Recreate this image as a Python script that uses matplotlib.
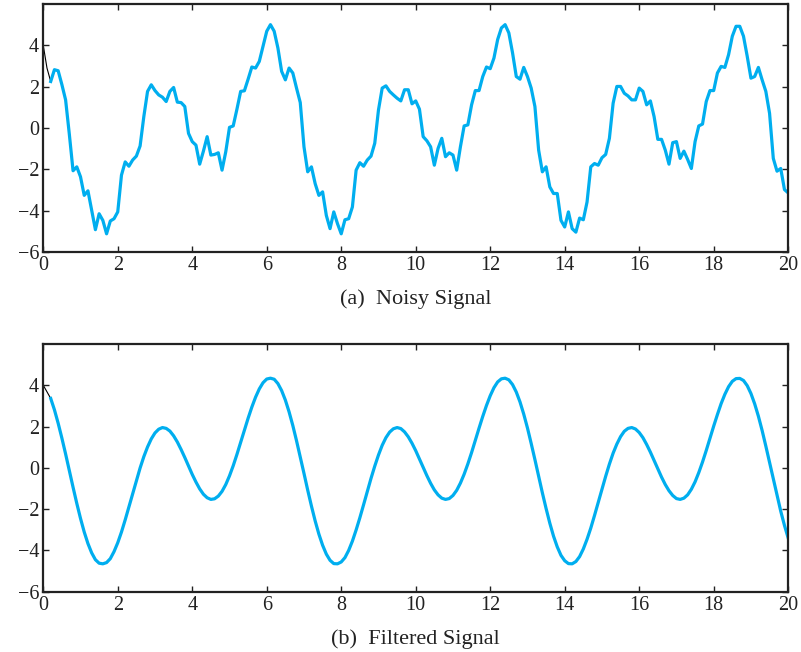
import numpy as np
import matplotlib
matplotlib.use('Agg')
import matplotlib.pyplot as plt

# time axis, 0.1 s steps for both traces
t = np.round(np.arange(0, 201) * 0.1, 1)

noisy = [
    4.00, 2.90, 2.25, 2.82, 2.77, 2.10, 1.36, -0.30, -2.07, -1.88,
    -2.36, -3.26, -3.04, -3.98, -4.92, -4.15, -4.47, -5.12, -4.50, -4.39,
    -4.06, -2.28, -1.64, -1.85, -1.55, -1.36, -0.87, 0.55, 1.77, 2.09,
    1.81, 1.60, 1.49, 1.28, 1.77, 1.96, 1.25, 1.23, 1.04, -0.26,
    -0.66, -0.83, -1.75, -1.12, -0.42, -1.31, -1.28, -1.20, -2.04, -1.15,
    0.03, 0.10, 0.91, 1.77, 1.80, 2.36, 2.95, 2.90, 3.22, 3.95,
    4.68, 5.00, 4.68, 3.87, 2.74, 2.33, 2.90, 2.66, 1.93, 1.23,
    -0.91, -2.12, -1.88, -2.69, -3.26, -3.09, -4.23, -4.87, -4.06, -4.63,
    -5.12, -4.44, -4.39, -3.82, -2.04, -1.68, -1.85, -1.55, -1.36, -0.74,
    0.87, 1.93, 2.04, 1.77, 1.60, 1.44, 1.31, 1.85, 1.85, 1.17,
    1.31, 0.91, -0.42, -0.62, -0.91, -1.80, -0.99, -0.50, -1.39, -1.20,
    -1.31, -2.04, -0.91, 0.10, 0.15, 1.12, 1.81, 1.81, 2.49, 2.95,
    2.87, 3.38, 4.28, 4.84, 5.00, 4.60, 3.63, 2.49, 2.36, 2.93,
    2.49, 1.93, 1.04, -1.07, -2.12, -1.88, -2.85, -3.17, -3.17, -4.47,
    -4.79, -4.06, -4.87, -5.04, -4.36, -4.44, -3.58, -1.88, -1.72, -1.80,
    -1.44, -1.28, -0.50, 1.20, 2.01, 2.01, 1.68, 1.55, 1.36, 1.36,
    1.93, 1.77, 1.12, 1.31, 0.55, -0.55, -0.55, -1.07, -1.75, -0.71,
    -0.66, -1.47, -1.12, -1.52, -1.96, -0.66, 0.10, 0.19, 1.28, 1.81,
    1.81, 2.66, 2.98, 2.93, 3.55, 4.44, 4.92, 4.92, 4.44, 3.47,
    2.41, 2.49, 2.93, 2.33, 1.77, 0.71, -1.47, -2.09, -1.96, -2.98,
    -3.14,
]

filtered = [
    4.00, 3.68, 3.36, 2.81, 2.16, 1.44, 0.67, -0.14, -0.94, -1.72,
    -2.45, -3.11, -3.67, -4.12, -4.45, -4.62, -4.65, -4.59, -4.40, -4.06,
    -3.63, -3.11, -2.52, -1.89, -1.25, -0.62, -0.01, 0.54, 1.01, 1.40,
    1.69, 1.87, 1.95, 1.91, 1.78, 1.55, 1.25, 0.89, 0.50, 0.09,
    -0.32, -0.69, -1.02, -1.28, -1.45, -1.53, -1.50, -1.37, -1.14, -0.81,
    -0.39, 0.10, 0.65, 1.23, 1.82, 2.40, 2.94, 3.42, 3.82, 4.12,
    4.30, 4.34, 4.29, 4.08, 3.74, 3.28, 2.71, 2.05, 1.31, 0.53,
    -0.27, -1.08, -1.85, -2.57, -3.21, -3.75, -4.18, -4.48, -4.64, -4.65,
    -4.56, -4.35, -4.00, -3.55, -3.01, -2.42, -1.79, -1.14, -0.51, 0.08,
    0.62, 1.09, 1.46, 1.73, 1.89, 1.95, 1.90, 1.74, 1.50, 1.19,
    0.83, 0.43, 0.02, -0.38, -0.75, -1.07, -1.31, -1.47, -1.53, -1.49,
    -1.34, -1.09, -0.74, -0.31, 0.19, 0.74, 1.33, 1.92, 2.49, 3.02,
    3.49, 3.88, 4.16, 4.31, 4.34, 4.26, 4.03, 3.67, 3.19, 2.60,
    1.93, 1.18, 0.40, -0.41, -1.21, -1.97, -2.68, -3.31, -3.83, -4.24,
    -4.50, -4.64, -4.65, -4.54, -4.30, -3.93, -3.46, -2.92, -2.31, -1.68,
    -1.04, -0.41, 0.18, 0.71, 1.15, 1.51, 1.77, 1.91, 1.95, 1.88,
    1.71, 1.46, 1.13, 0.76, 0.36, -0.05, -0.45, -0.81, -1.11, -1.34,
    -1.49, -1.53, -1.47, -1.31, -1.04, -0.68, -0.23, 0.28, 0.84, 1.43,
    2.02, 2.58, 3.11, 3.56, 3.93, 4.19, 4.32, 4.33, 4.23, 3.98,
    3.60, 3.10, 2.50, 1.81, 1.05, 0.26, -0.55, -1.34, -2.10, -2.79,
    -3.40,
]

captions = ['(a)  Noisy Signal', '(b)  Filtered Signal']
xticks = [0, 2, 4, 6, 8, 10, 12, 14, 16, 18, 20]
yticks = [-6, -4, -2, 0, 2, 4]
ylabels = ['\u22126', '\u22124', '\u22122', '0', '2', '4']

plt.rcParams['font.family'] = ['Liberation Serif', 'DejaVu Serif']
cyan = '#00AEEF'

fig = plt.figure(figsize=(8.01, 6.52), dpi=100)
ax1 = fig.add_axes([0.054, 0.6135, 0.930, 0.3804])
ax2 = fig.add_axes([0.054, 0.0925, 0.930, 0.3800])

# first samples drawn as a thin black start-up segment
ax1.plot(t[:3], noisy[:3], color='black', lw=0.8)
ax1.plot(t[2:], noisy[2:], color=cyan, lw=2.3)
ax2.plot(t[:3], filtered[:3], color='black', lw=0.8)
ax2.plot(t[2:], filtered[2:], color=cyan, lw=2.3)

for ax, cap in zip([ax1, ax2], captions):
    ax.set_xlim(0, 20)
    ax.set_ylim(-6, 6)
    ax.set_xticks(xticks)
    ax.set_yticks(yticks)
    ax.set_yticklabels(ylabels)
    ax.tick_params(direction='in', length=4, width=1, top=True, right=True,
                   labelsize=14.5, colors='#222222', pad=3)
    for s in ax.spines.values():
        s.set_linewidth(1.6)
        s.set_color('#222222')
    pos = ax.get_position()
    fig.text((pos.x0 + pos.x1) / 2, pos.y0 - 0.072, cap, ha='center',
             va='center', fontsize=16, color='#222222')

fig.savefig('out.png', dpi=100)
